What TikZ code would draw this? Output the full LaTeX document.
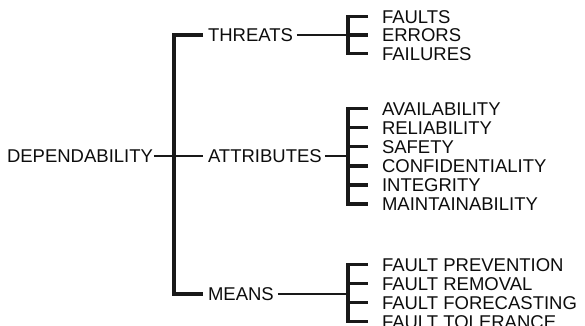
\documentclass[tikz,border=0pt]{standalone}
\usepackage{fontspec}
\setmainfont{Liberation Sans}
\begin{document}
\begin{tikzpicture}[x=1bp,y=-1bp,
  lbl/.style={anchor=west,inner sep=0pt,outer sep=0pt,text height=13.2bp,text depth=0pt,
    font=\fontsize{18.5bp}{20bp}\selectfont,text=black!95},
  bar/.style={draw=black!90,line width=3.5bp,line cap=butt,line join=miter},
  conn/.style={draw=black!90,line width=2.6bp,line cap=butt}]
\useasboundingbox (0,0) rectangle (585,325);
\clip (0,0) rectangle (585,325);

% root and first level
\node[lbl] (dep) at (7,156) {DEPENDABILITY};
\node[lbl] (thr) at (208,35) {THREATS};
\node[lbl] (att) at (208,156) {ATTRIBUTES};
\node[lbl] (mea) at (208,294) {MEANS};
\coordinate (rb) at (174,156);

\draw[bar] ([xshift=-5bp]thr.west) -| (rb) |- ([xshift=-5bp]mea.west);
\draw[conn,shorten <=1bp,shorten >=5bp] (dep) -- (att);

% second level
\coordinate (tb) at (348,35);
\coordinate (ab) at (348,156);
\coordinate (mb) at (348,294);

\node[lbl] (t1) at (382,16.5) {FAULTS};
\node[lbl] (t2) at (382,35) {ERRORS};
\node[lbl] (t3) at (382,53.5) {FAILURES};

\node[lbl] (a1) at (382,108.5) {AVAILABILITY};
\node[lbl] (a2) at (382,127.6) {RELIABILITY};
\node[lbl] (a3) at (382,146.7) {SAFETY};
\node[lbl] (a4) at (382,165.8) {CONFIDENTIALITY};
\node[lbl] (a5) at (382,184.9) {INTEGRITY};
\node[lbl] (a6) at (382,204) {MAINTAINABILITY};

\node[lbl] (m1) at (382,264.5) {FAULT PREVENTION};
\node[lbl] (m2) at (382,283.5) {FAULT REMOVAL};
\node[lbl] (m3) at (382,302.5) {FAULT FORECASTING};
\node[lbl] (m4) at (382,321.5) {FAULT TOLERANCE};

% connectors to the brackets
\draw[conn,shorten <=4bp] (thr.east) -- (thr.east -| tb);
\draw[conn,shorten <=3bp] (att.east) -- (att.east -| ab);
\draw[conn,shorten <=4bp] (mea.east) -- (mea.east -| mb);

% brackets
\draw[bar] ([xshift=-14bp]t1.west) -| (tb) |- ([xshift=-14bp]t3.west);
\draw[bar] (tb |- t2.west) -- ([xshift=-14bp]t2.west);

\draw[bar] ([xshift=-14bp]a1.west) -| (ab) |- ([xshift=-14bp]a6.west);
\foreach \n in {a2,a3,a4,a5}
  \draw[bar] (ab |- \n.west) -- ([xshift=-14bp]\n.west);

\draw[bar] ([xshift=-14bp]m1.west) -| (mb) |- ([xshift=-14bp]m4.west);
\foreach \n in {m2,m3}
  \draw[bar] (mb |- \n.west) -- ([xshift=-14bp]\n.west);
\end{tikzpicture}
\end{document}
